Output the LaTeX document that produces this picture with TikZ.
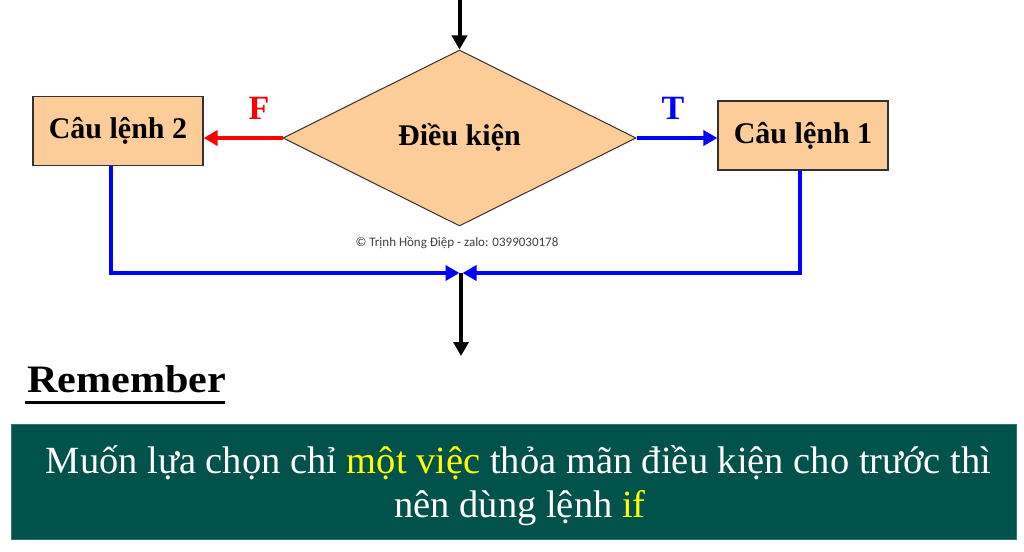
\documentclass[tikz,border=0pt]{standalone}
\usepackage{fontspec}
\setmainfont{Liberation Serif}
\newfontfamily\wmfont{Carlito}
\usetikzlibrary{shapes.geometric,arrows.meta}
\definecolor{peach}{RGB}{252,204,153}
\definecolor{teal}{RGB}{2,82,76}
\definecolor{ylw}{RGB}{255,255,0}
\definecolor{bordergray}{RGB}{50,50,50}
\tikzset{
  stmt/.style={draw=bordergray,line width=1.2pt,fill=peach,minimum width=170pt,minimum height=69pt,inner sep=0pt,font=\fontsize{30}{32}\selectfont\bfseries},
  cond/.style={diamond,draw=bordergray,line width=1pt,fill=peach,minimum width=353pt,minimum height=176pt,inner sep=0pt,font=\fontsize{30}{32}\selectfont\bfseries},
  flow/.style={line width=4pt,-{Triangle[width=15pt,length=14pt]}},
  lbl/.style={font=\fontsize{34}{36}\selectfont\bfseries,inner sep=0pt}
}
\begin{document}
\begin{tikzpicture}[x=1pt,y=1pt]
\useasboundingbox (0,0) rectangle (1024,-551);
\node[cond] (C) at (459.5,-138) {Điều kiện};
\node[stmt] (L) at (118,-131) {Câu lệnh 2};
\node[stmt] (R) at (803,-135.5) {Câu lệnh 1};
\coordinate (top) at (459.5,0);
\coordinate (J) at (461,-273);
\coordinate (Jl) at (459.5,-273);
\coordinate (Jr) at (462.5,-273);
\coordinate (bot) at (461,-356);
\draw[flow,black] (top) -- (C.north);
\draw[flow,red] (C.west) -- (L.east |- C.west);
\draw[flow,blue] (C.east) -- (R.west |- C.east);
\node[lbl,text=red] (F) at (259,-108) {F};
\node[lbl,text=blue] (T) at (673,-108) {T};
\draw[line width=4pt,blue,-{Triangle[width=15pt,length=14pt]}] ([xshift=-7pt]L.south) |- (Jl);
\draw[line width=4pt,blue,-{Triangle[width=15pt,length=14pt]}] ([xshift=-3pt]R.south) |- (Jr);
\draw[flow,black] (J) -- (bot);
\node[font=\wmfont\fontsize{13}{15}\selectfont,text=black!75,inner sep=0pt] (W) at (457,-243) {© Trịnh Hồng Điệp - zalo: 0399030178};
\node[anchor=base west,inner sep=0pt,font=\fontsize{37}{40}\selectfont\bfseries] (Rem) at (27,-392) {\scalebox{1.14}[1.05]{Remember}};
\draw[line width=3.2pt] (25,-402.5) -- (225,-402.5);
\node[fill=teal,draw=teal!80!white,minimum width=1005pt,minimum height=115pt,inner sep=0pt] (B) at (513.5,-481.5) {};
\node[anchor=base,inner sep=0pt,text=white,font=\fontsize{38.5}{40}\selectfont] (T1) at (518.5,-473) {Muốn lựa chọn chỉ \textcolor{ylw}{một việc} thỏa mãn điều kiện cho trước thì};
\node[anchor=base,inner sep=0pt,text=white,font=\fontsize{38.5}{40}\selectfont] (T2) at (520,-517) {nên dùng lệnh \textcolor{ylw}{if}};
\end{tikzpicture}
\end{document}
